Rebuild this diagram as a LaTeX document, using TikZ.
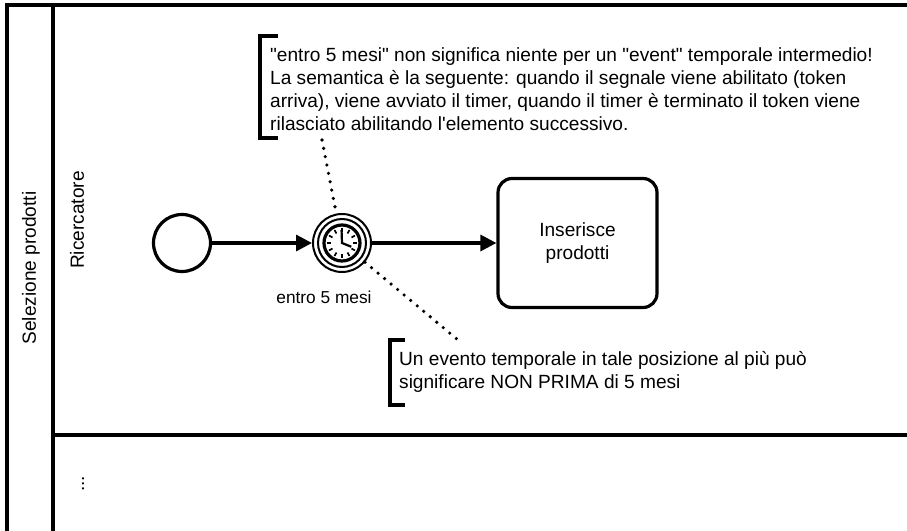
\documentclass[tikz,border=0pt]{standalone}
\usepackage{fontspec}
\setmainfont{Liberation Sans}[Ligatures=TeXOff]
\usetikzlibrary{arrows.meta}
\begin{document}
\begin{tikzpicture}[x=1pt,y=-1pt,
  lbl/.style={font=\fontsize{19.1}{22.9}\selectfont},
  flow/.style={line width=3.2pt,-{Triangle[length=16pt,width=16pt]}},
  assoc/.style={line width=3.6pt,line cap=round,dash pattern=on 0pt off 8.5pt},
  bracket/.style={line width=3.4pt}]
  \useasboundingbox (0,0) rectangle (907,530);
  % pool and lanes
  \draw[line width=4pt] (7,535) -- (7,4.7) -- (912,4.7);
  \draw[line width=4pt] (53.3,4.7) -- (53.3,535);
  \draw[line width=3.4pt] (53.3,435) -- (912,435);
  \node[lbl,rotate=90] (pool) at (31,268) {Selezione prodotti};
  \node[lbl,rotate=90] (lane1) at (77,220) {Ricercatore};
  \node[lbl,rotate=90] (lane2) at (83,484) {...};
  % events and task
  \node[circle,draw,line width=3.2pt,minimum size=57pt] (start) at (182,243) {};
  \node[circle,draw,line width=2pt,minimum size=58pt] (timer) at (342,243) {};
  \draw[line width=2pt] (timer.center) circle (24pt);
  \draw[line width=3.2pt] (timer.center) circle (18pt);
  \foreach \a in {0,30,...,330}
    \draw[line width=1.7pt,shift={(timer.center)}] (\a:11pt) -- (\a:15pt);
  \draw[line width=2.2pt,shift={(timer.center)}] (92:13pt) -- (0,0) -- (-22:10pt);
  \node[font=\fontsize{17.3}{20}\selectfont] (timerlbl) at (324,297) {entro 5 mesi};
  \node[lbl,draw,line width=3.2pt,rounded corners=14pt,minimum width=159pt,
    minimum height=129pt,align=center] (task) at (577.5,243) {Inserisce\\prodotti};
  \draw[flow] (start) -- (timer);
  \draw[flow] (timer) -- (task);
  % annotations
  \draw[bracket] (278,36) -- (260,36) -- (260,138) -- (278,138);
  \node[lbl,anchor=north west,align=left,inner sep=0] (note1) at (270,47.5)
    {"entro 5 mesi" non significa niente per un "event" temporale intermedio!\\
     La semantica è la seguente: quando il segnale viene abilitato (token\\
     arriva), viene avviato il timer, quando il timer è terminato il token viene\\
     rilasciato abilitando l'elemento successivo.};
  \draw[bracket] (405,340) -- (390,340) -- (390,405) -- (405,405);
  \node[lbl,anchor=north west,align=left,inner sep=0] (note2) at (399,351)
    {Un evento temporale in tale posizione al più può\\
     significare NON PRIMA di 5 mesi};
  \coordinate (n1) at (322,140);
  \coordinate (n2) at (458,340);
  \draw[assoc] (n1) -- (timer);
  \draw[assoc] (timer) -- (n2);
\end{tikzpicture}
\end{document}
